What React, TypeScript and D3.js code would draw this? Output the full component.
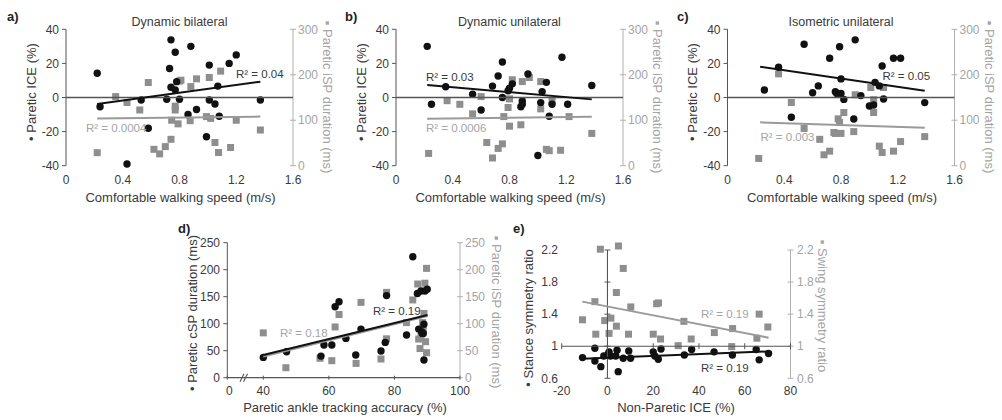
import React from "react";
import * as d3 from "d3";

// ---------- shared ticks ----------
const speedTicks = [0, 0.4, 0.8, 1.2, 1.6];
const iceTicks = [-40, -20, 0, 20, 40];
const ispTicks = [0, 100, 200, 300];
const accTicks = [40, 60, 80, 100];
const cspTicks = [0, 50, 100, 150, 200, 250];
const npIceTicks = [-20, 0, 20, 40, 60, 80];
const ratioTicks = [0.6, 1, 1.4, 1.8, 2.2];

// ---------- panel a: Dynamic bilateral ----------
const aICE: [number, number][] = [
  [0.22, 14.2], [0.24, -5.4], [0.43, -39], [0.53, -1.5], [0.58, -18], [0.73, 17], [0.74, 33.8],
  [0.77, 26.5], [0.71, -1], [0.74, 6], [0.77, 4.4], [0.78, 9.3], [0.8, -1], [0.88, 30], [0.86, -10],
  [0.92, -7], [0.99, -23], [1.01, 19], [1.01, -1.5], [1.05, -3.8], [1.07, 6.7], [1.08, -11],
  [1.15, 20], [1.2, 25], [1.37, -1.5],
];
const aISP: [number, number][] = [
  [0.22, 28.6], [0.35, 152], [0.43, 139], [0.52, 122.5], [0.58, 183], [0.62, 36], [0.66, 26],
  [0.7, 42], [0.74, 58], [0.745, 100], [0.77, 122.5], [0.77, 131], [0.79, 92], [0.8, 186],
  [0.81, 188], [0.88, 174], [0.875, 99], [0.92, 191], [0.99, 108], [1.01, 194], [1.02, 104],
  [1.05, 51], [1.075, 29], [1.09, 208], [1.16, 40], [1.2, 100], [1.37, 78.5],
];
const aFitICE: [number, number][] = [[0.22, -3.8], [1.37, 9.3]];
const aFitISP: [number, number][] = [[0.22, 104], [1.37, 108]];

// ---------- panel b: Dynamic unilateral ----------
const bICE: [number, number][] = [
  [0.22, 30], [0.25, -4], [0.35, 6.3], [0.54, 1.9], [0.6, -7.3], [0.68, 6.7], [0.72, 12.6],
  [0.75, 20.8], [0.75, 0], [0.79, 4], [0.8, 5.4], [0.82, 8], [0.88, -5.4], [0.89, -2], [0.89, -4],
  [0.93, 13.8], [1.0, -34], [1.02, -3], [1.03, 3.4], [1.06, 8.9], [1.08, -11], [1.1, -4],
  [1.17, 23.6], [1.21, -4], [1.38, 7],
];
const bISP: [number, number][] = [
  [0.23, 27], [0.36, 143], [0.45, 135], [0.54, 114], [0.6, 152], [0.64, 51], [0.68, 17],
  [0.72, 38], [0.75, 48], [0.76, 108], [0.79, 128], [0.8, 87], [0.8, 147], [0.82, 189],
  [0.88, 90], [0.89, 185], [0.94, 194], [1.02, 185], [1.02, 125], [1.06, 36], [1.08, 33],
  [1.1, 143], [1.16, 34], [1.22, 108], [1.38, 71],
];
const bFitICE: [number, number][] = [[0.22, 7.3], [1.38, -1.1]];
const bFitISP: [number, number][] = [[0.22, 103], [1.38, 107.5]];

// ---------- panel c: Isometric unilateral ----------
const cICE: [number, number][] = [
  [0.26, 4.4], [0.36, 17.7], [0.45, -11.6], [0.54, 31.2], [0.6, 2.8], [0.64, 6.8], [0.72, 23],
  [0.76, 3.4], [0.77, 2.4], [0.79, 29.8], [0.8, 10.9], [0.8, 2.4], [0.82, -1.1], [0.9, 33.8],
  [0.89, -12.6], [0.94, 1.1], [1.0, -5], [1.03, -4.4], [1.04, 8.9], [1.07, 6.8], [1.09, 18.5],
  [1.1, -0.9], [1.17, 23], [1.22, 23], [1.39, -3],
];
const cISP: [number, number][] = [
  [0.22, 16], [0.36, 202], [0.45, 139], [0.54, 82], [0.65, 58], [0.68, 24], [0.72, 32],
  [0.75, 73], [0.78, 103], [0.79, 95], [0.76, 71], [0.8, 71], [0.82, 117], [0.89, 75],
  [0.9, 156], [1.01, 172], [1.03, 145], [1.03, 117], [1.07, 43], [1.09, 29], [1.1, 172],
  [1.17, 32], [1.22, 53], [1.39, 64],
];
const cFitICE: [number, number][] = [[0.23, 18.1], [1.39, 4.0]];
const cFitISP: [number, number][] = [[0.23, 95.4], [1.39, 83.6]];

// ---------- panel d ----------
const dCSP: [number, number][] = [
  [40, 37.6], [47.1, 48], [57.6, 40], [58.5, 60.5], [60.9, 60.5], [61.9, 131.5], [63.1, 140.7],
  [65.2, 72.8], [69.8, 90], [68.2, 42], [75.9, 49.4], [77.2, 65.4], [77.6, 152], [83.7, 79],
  [85.6, 224], [87.0, 156], [87.4, 90], [88.1, 160.5], [88.3, 85], [88.5, 82], [88.8, 82],
  [89.3, 160.5], [89.0, 99], [90.0, 164], [89.0, 32.7],
];
const dISP: [number, number][] = [
  [40, 83], [46.9, 18.5], [57.3, 36], [60.9, 31.5], [61.9, 94], [63.1, 117], [69.8, 139.5],
  [68.3, 26.5], [75.9, 34.6], [77.6, 158], [77.6, 72], [83.7, 102], [85.6, 144], [87.1, 173.5],
  [87.4, 71.6], [87.8, 54], [88.1, 76], [88.8, 88.3], [89.0, 119], [89.3, 175], [89.5, 66.7],
  [89.8, 46.3], [89.8, 202.5], [88.6, 102],
];
const dFitCSP: [number, number][] = [[40, 42], [90.1, 116]];
const dFitISP: [number, number][] = [[40, 39], [90.1, 114]];

// ---------- panel e ----------
const eStance: [number, number][] = [
  [-10.9, 0.858], [-5.5, 0.974], [-5.5, 0.816], [-2.9, 0.745], [-1.6, 0.878], [0.3, 0.9],
  [0.7, 0.93], [1.3, 0.878], [3.6, 0.878], [4.2, 0.95], [4.7, 0.683], [6.9, 0.85], [9.3, 0.94],
  [10.1, 0.85], [20, 0.93], [20.7, 0.878], [22.2, 0.837], [23.4, 0.966], [33.6, 0.89],
  [36.8, 0.96], [46.6, 0.93], [54.6, 0.89], [65, 0.96], [66.3, 0.83], [70.4, 0.91],
];
const eSwing: [number, number][] = [
  [-10.9, 1.33], [-5.5, 1.556], [-5.1, 1.15], [-3.1, 2.21], [-1.2, 1.32], [1.5, 1.35],
  [0.7, 1.16], [3.9, 1.67], [3.9, 1.25], [4.8, 2.25], [6.9, 1.97], [9.2, 1.15], [10.2, 1.49],
  [20, 1.15], [21.5, 1.53], [22.3, 1.54], [23.2, 1.09], [30.9, 1.007], [33.4, 1.31],
  [36.6, 1.09], [46.7, 1.17], [54.7, 1.22], [54.3, 0.995], [65.3, 1.1], [66.3, 1.4], [70.1, 1.24],
];
const eFitStance: [number, number][] = [[-11, 0.845], [70.4, 0.935]];
const eFitSwing: [number, number][] = [[-11, 1.556], [70.4, 1.107]];

// ---------- styles ----------
const FONT = "'Liberation Sans', Arial, Helvetica, sans-serif";
const BLACK = "#111";
const AXIS = "#555";
const TXT = "#3a3a3a";
const GMARK = "#8e8e8e";
const GLINE = "#9a9a9a";
const GTXT = "#a4a4a4";
const GAXIS = "#b0b0b0";
const TICK_FS = 12;
const TITLE_FS = 13;

type Pt = [number, number];
type Sc = d3.ScaleLinear<number, number>;

function Circles({ data, x, y }: { data: Pt[]; x: (v: number) => number; y: Sc }) {
  return (
    <g>
      {data.map((d, i) => (
        <circle key={i} cx={x(d[0])} cy={y(d[1])} r={3.7} fill={BLACK} />
      ))}
    </g>
  );
}
function Squares({ data, x, y }: { data: Pt[]; x: (v: number) => number; y: Sc }) {
  return (
    <g>
      {data.map((d, i) => (
        <rect key={i} x={x(d[0]) - 3.5} y={y(d[1]) - 3.5} width={7} height={7} fill={GMARK} />
      ))}
    </g>
  );
}
function Fit({ data, x, y, color }: { data: Pt[]; x: (v: number) => number; y: Sc; color: string }) {
  const line = d3.line<Pt>().x((d) => x(d[0])).y((d) => y(d[1]));
  return <path d={line(data) || ""} stroke={color} strokeWidth={2} fill="none" />;
}

function VTitle({ x, y, text, rot, color }: { x: number; y: number; text: string; rot: number; color: string }) {
  return (
    <text
      transform={`translate(${x},${y}) rotate(${rot})`}
      textAnchor="middle"
      dy="0.35em"
      fontSize={TITLE_FS}
      fill={color}
    >
      {text}
    </text>
  );
}

function TopPanel(props: {
  ox: number;
  label: string;
  labelX: number;
  title: string;
  ice: Pt[];
  isp: Pt[];
  fitIce: Pt[];
  fitIsp: Pt[];
  r2Ice: string;
  r2Isp: string;
  r2IcePos: [number, number];
  r2IspPos: [number, number];
}) {
  const { ox } = props;
  const top = 29.3, bottom = 165.7, left = ox + 66, right = ox + 293;
  const x = d3.scaleLinear().domain([0, 1.6]).range([left, right]);
  const yL = d3.scaleLinear().domain([-40, 40]).range([bottom, top]);
  const yR = d3.scaleLinear().domain([0, 300]).range([bottom, top]);
  return (
    <g>
      <text x={props.labelX} y={21} fontSize={13} fontWeight="bold" fill="#222">{props.label}</text>
      <text x={(left + right) / 2} y={25.5} textAnchor="middle" fontSize={TITLE_FS - 0.5} fill={TXT}>{props.title}</text>
      {/* left axis */}
      <line x1={left} x2={left} y1={top} y2={bottom} stroke={AXIS} strokeWidth={1} />
      {iceTicks.map((t) => (
        <g key={t}>
          <line x1={left - 4} x2={left} y1={yL(t)} y2={yL(t)} stroke={AXIS} />
          <text x={ox + 59} y={yL(t)} dy="0.35em" textAnchor="end" fontSize={TICK_FS} fill={TXT}>{t}</text>
        </g>
      ))}
      {/* right axis */}
      <line x1={right} x2={right} y1={top} y2={bottom} stroke={GAXIS} strokeWidth={1} />
      {ispTicks.map((t) => (
        <g key={t}>
          <line x1={right - 3} x2={right + 3} y1={yR(t)} y2={yR(t)} stroke={GAXIS} />
          <text x={ox + 298} y={yR(t)} dy="0.35em" textAnchor="start" fontSize={TICK_FS} fill={GTXT}>{t}</text>
        </g>
      ))}
      {/* x tick labels */}
      {speedTicks.map((t) => (
        <text key={t} x={x(t)} y={184} textAnchor="middle" fontSize={TICK_FS} fill={TXT}>{t === 0 ? "0" : t.toFixed(1)}</text>
      ))}
      <text x={(left + right) / 2 + 1} y={202} textAnchor="middle" fontSize={TITLE_FS} fill={TXT}>Comfortable walking speed (m/s)</text>
      <VTitle x={ox + 31} y={92} rot={-90} text="• Paretic ICE (%)" color={TXT} />
      <VTitle x={ox + 328} y={97} rot={90} text="▪ Paretic iSP duration (ms)" color={GTXT} />
      {/* markers */}
      <Squares data={props.isp} x={x} y={yR} />
      <Circles data={props.ice} x={x} y={yL} />
      {/* zero line */}
      <line x1={left} x2={right} y1={yL(0)} y2={yL(0)} stroke={AXIS} strokeWidth={1.3} />
      <Fit data={props.fitIsp} x={x} y={yR} color={GLINE} />
      <Fit data={props.fitIce} x={x} y={yL} color={BLACK} />
      <text x={ox + props.r2IcePos[0]} y={props.r2IcePos[1]} fontSize={TICK_FS - 0.5} fill={TXT}>{props.r2Ice}</text>
      <text x={ox + props.r2IspPos[0]} y={props.r2IspPos[1]} fontSize={TICK_FS - 0.5} fill={GTXT}>{props.r2Isp}</text>
    </g>
  );
}

function PanelD() {
  const top = 242.7, bottom = 377.7, left = 227.3, right = 460;
  const xs = d3.scaleLinear().domain([40, 100]).range([263.3, right]);
  const x = (v: number) => (v === 0 ? left : xs(v));
  const y = d3.scaleLinear().domain([0, 250]).range([bottom, top]);
  const xt = [0, ...accTicks];
  return (
    <g>
      <text x={178} y={233} fontSize={13} fontWeight="bold" fill="#222">d)</text>
      <line x1={left} x2={left} y1={top} y2={bottom} stroke={AXIS} />
      {cspTicks.map((t) => (
        <g key={t}>
          <line x1={left - 4} x2={left} y1={y(t)} y2={y(t)} stroke={AXIS} />
          <text x={220} y={y(t)} dy="0.35em" textAnchor="end" fontSize={TICK_FS} fill={TXT}>{t}</text>
        </g>
      ))}
      <line x1={right} x2={right} y1={top} y2={bottom} stroke={GAXIS} />
      {cspTicks.map((t) => (
        <g key={t}>
          <line x1={right - 3} x2={right + 3} y1={y(t)} y2={y(t)} stroke={GAXIS} />
          <text x={465} y={y(t)} dy="0.35em" textAnchor="start" fontSize={TICK_FS} fill={GTXT}>{t}</text>
        </g>
      ))}
      <line x1={left} x2={right} y1={bottom} y2={bottom} stroke={AXIS} strokeWidth={1.2} />
      {xt.map((t) => (
        <g key={t}>
          <line x1={x(t)} x2={x(t)} y1={bottom - 2} y2={bottom + 2} stroke={AXIS} />
          <text x={x(t) + (t === 0 ? 2 : 0)} y={395} textAnchor="middle" fontSize={TICK_FS} fill={TXT}>{t}</text>
        </g>
      ))}
      {/* axis break */}
      <line x1={240} x2={244} y1={bottom + 4} y2={bottom - 4} stroke={AXIS} strokeWidth={1.1} />
      <line x1={243.5} x2={247.5} y1={bottom + 4} y2={bottom - 4} stroke={AXIS} strokeWidth={1.1} />
      <text x={345} y={412} textAnchor="middle" fontSize={TITLE_FS} fill={TXT}>Paretic ankle tracking accuracy (%)</text>
      <VTitle x={192} y={313} rot={-90} text="• Paretic cSP duration (ms)" color={TXT} />
      <VTitle x={497} y={312} rot={90} text="▪ Paretic iSP duration (ms)" color={GTXT} />
      <Squares data={dISP} x={x} y={y} />
      <Circles data={dCSP} x={x} y={y} />
      <Fit data={dFitISP} x={x} y={y} color={GLINE} />
      <Fit data={dFitCSP} x={x} y={y} color={BLACK} />
      <text x={280} y={337} fontSize={TICK_FS - 0.5} fill={GTXT}>R² = 0.18</text>
      <text x={373} y={315} fontSize={TICK_FS - 0.5} fill={TXT}>R² = 0.19</text>
    </g>
  );
}

function PanelE() {
  const top = 250, bottom = 378.3;
  const x = d3.scaleLinear().domain([-20, 80]).range([561.7, 790.5]);
  const y = d3.scaleLinear().domain([0.6, 2.2]).range([bottom, top]);
  const fmt = (v: number) => (v === 1 ? "1" : v.toFixed(1));
  return (
    <g>
      <text x={513} y={233} fontSize={13} fontWeight="bold" fill="#222">e)</text>
      {/* right axis */}
      <line x1={x(80)} x2={x(80)} y1={top} y2={bottom} stroke={GAXIS} />
      {ratioTicks.map((t) => (
        <g key={t}>
          <line x1={x(80) - 3} x2={x(80) + 3} y1={y(t)} y2={y(t)} stroke={GAXIS} />
          <text x={797} y={y(t)} dy="0.35em" textAnchor="start" fontSize={TICK_FS} fill={GTXT}>{fmt(t)}</text>
        </g>
      ))}
      {ratioTicks.map((t) => (
        <text key={t} x={558} y={y(t)} dy="0.35em" textAnchor="end" fontSize={TICK_FS} fill={TXT}>{fmt(t)}</text>
      ))}
      {npIceTicks.map((t) => (
        <text key={t} x={x(t)} y={395} textAnchor="middle" fontSize={TICK_FS} fill={TXT}>{t}</text>
      ))}
      <text x={676} y={412} textAnchor="middle" fontSize={TITLE_FS} fill={TXT}>Non-Paretic ICE (%)</text>
      <VTitle x={528} y={318} rot={-90} text="• Stance symmetry ratio" color={TXT} />
      <VTitle x={823} y={306} rot={90} text="▪ Swing symmetry ratio" color={GTXT} />
      <Squares data={eSwing} x={x} y={y} />
      <Circles data={eStance} x={x} y={y} />
      {/* crossing axes */}
      <line x1={x(0)} x2={x(0)} y1={top} y2={bottom} stroke={AXIS} strokeWidth={1.1} />
      {ratioTicks.map((t) => (
        <line key={t} x1={x(0) - 3} x2={x(0) + 3} y1={y(t)} y2={y(t)} stroke={AXIS} />
      ))}
      <line x1={x(-20)} x2={x(80)} y1={y(1)} y2={y(1)} stroke={AXIS} strokeWidth={1.1} />
      {npIceTicks.map((t) => (
        <line key={t} x1={x(t)} x2={x(t)} y1={y(1) - 3} y2={y(1) + 3} stroke={AXIS} />
      ))}
      <Fit data={eFitSwing} x={x} y={y} color={GLINE} />
      <Fit data={eFitStance} x={x} y={y} color={BLACK} />
      <text x={701} y={318} fontSize={TICK_FS - 0.5} fill={GTXT}>R² = 0.19</text>
      <text x={701} y={372} fontSize={TICK_FS - 0.5} fill={TXT}>R² = 0.19</text>
    </g>
  );
}

export default function App() {
  return (
    <svg
      width={1002}
      height={420}
      viewBox="0 0 1002 420"
      style={{ position: "absolute", left: 0, top: 0, background: "#fff", fontFamily: FONT }}
    >
      <rect width={1002} height={420} fill="#fff" />
      <TopPanel
        ox={0} label="a)" labelX={7} title="Dynamic bilateral"
        ice={aICE} isp={aISP} fitIce={aFitICE} fitIsp={aFitISP}
        r2Ice="R² = 0.04" r2Isp="R² = 0.0004" r2IcePos={[236, 78]} r2IspPos={[86, 132]}
      />
      <TopPanel
        ox={330} label="b)" labelX={345} title="Dynamic unilateral"
        ice={bICE} isp={bISP} fitIce={bFitICE} fitIsp={bFitISP}
        r2Ice="R² = 0.03" r2Isp="R² = 0.0006" r2IcePos={[96, 81]} r2IspPos={[96, 132]}
      />
      <TopPanel
        ox={661.5} label="c)" labelX={677} title="Isometric unilateral"
        ice={cICE} isp={cISP} fitIce={cFitICE} fitIsp={cFitISP}
        r2Ice="R² = 0.05" r2Isp="R² = 0.003" r2IcePos={[221, 80]} r2IspPos={[99, 141]}
      />
      <PanelD />
      <PanelE />
    </svg>
  );
}
